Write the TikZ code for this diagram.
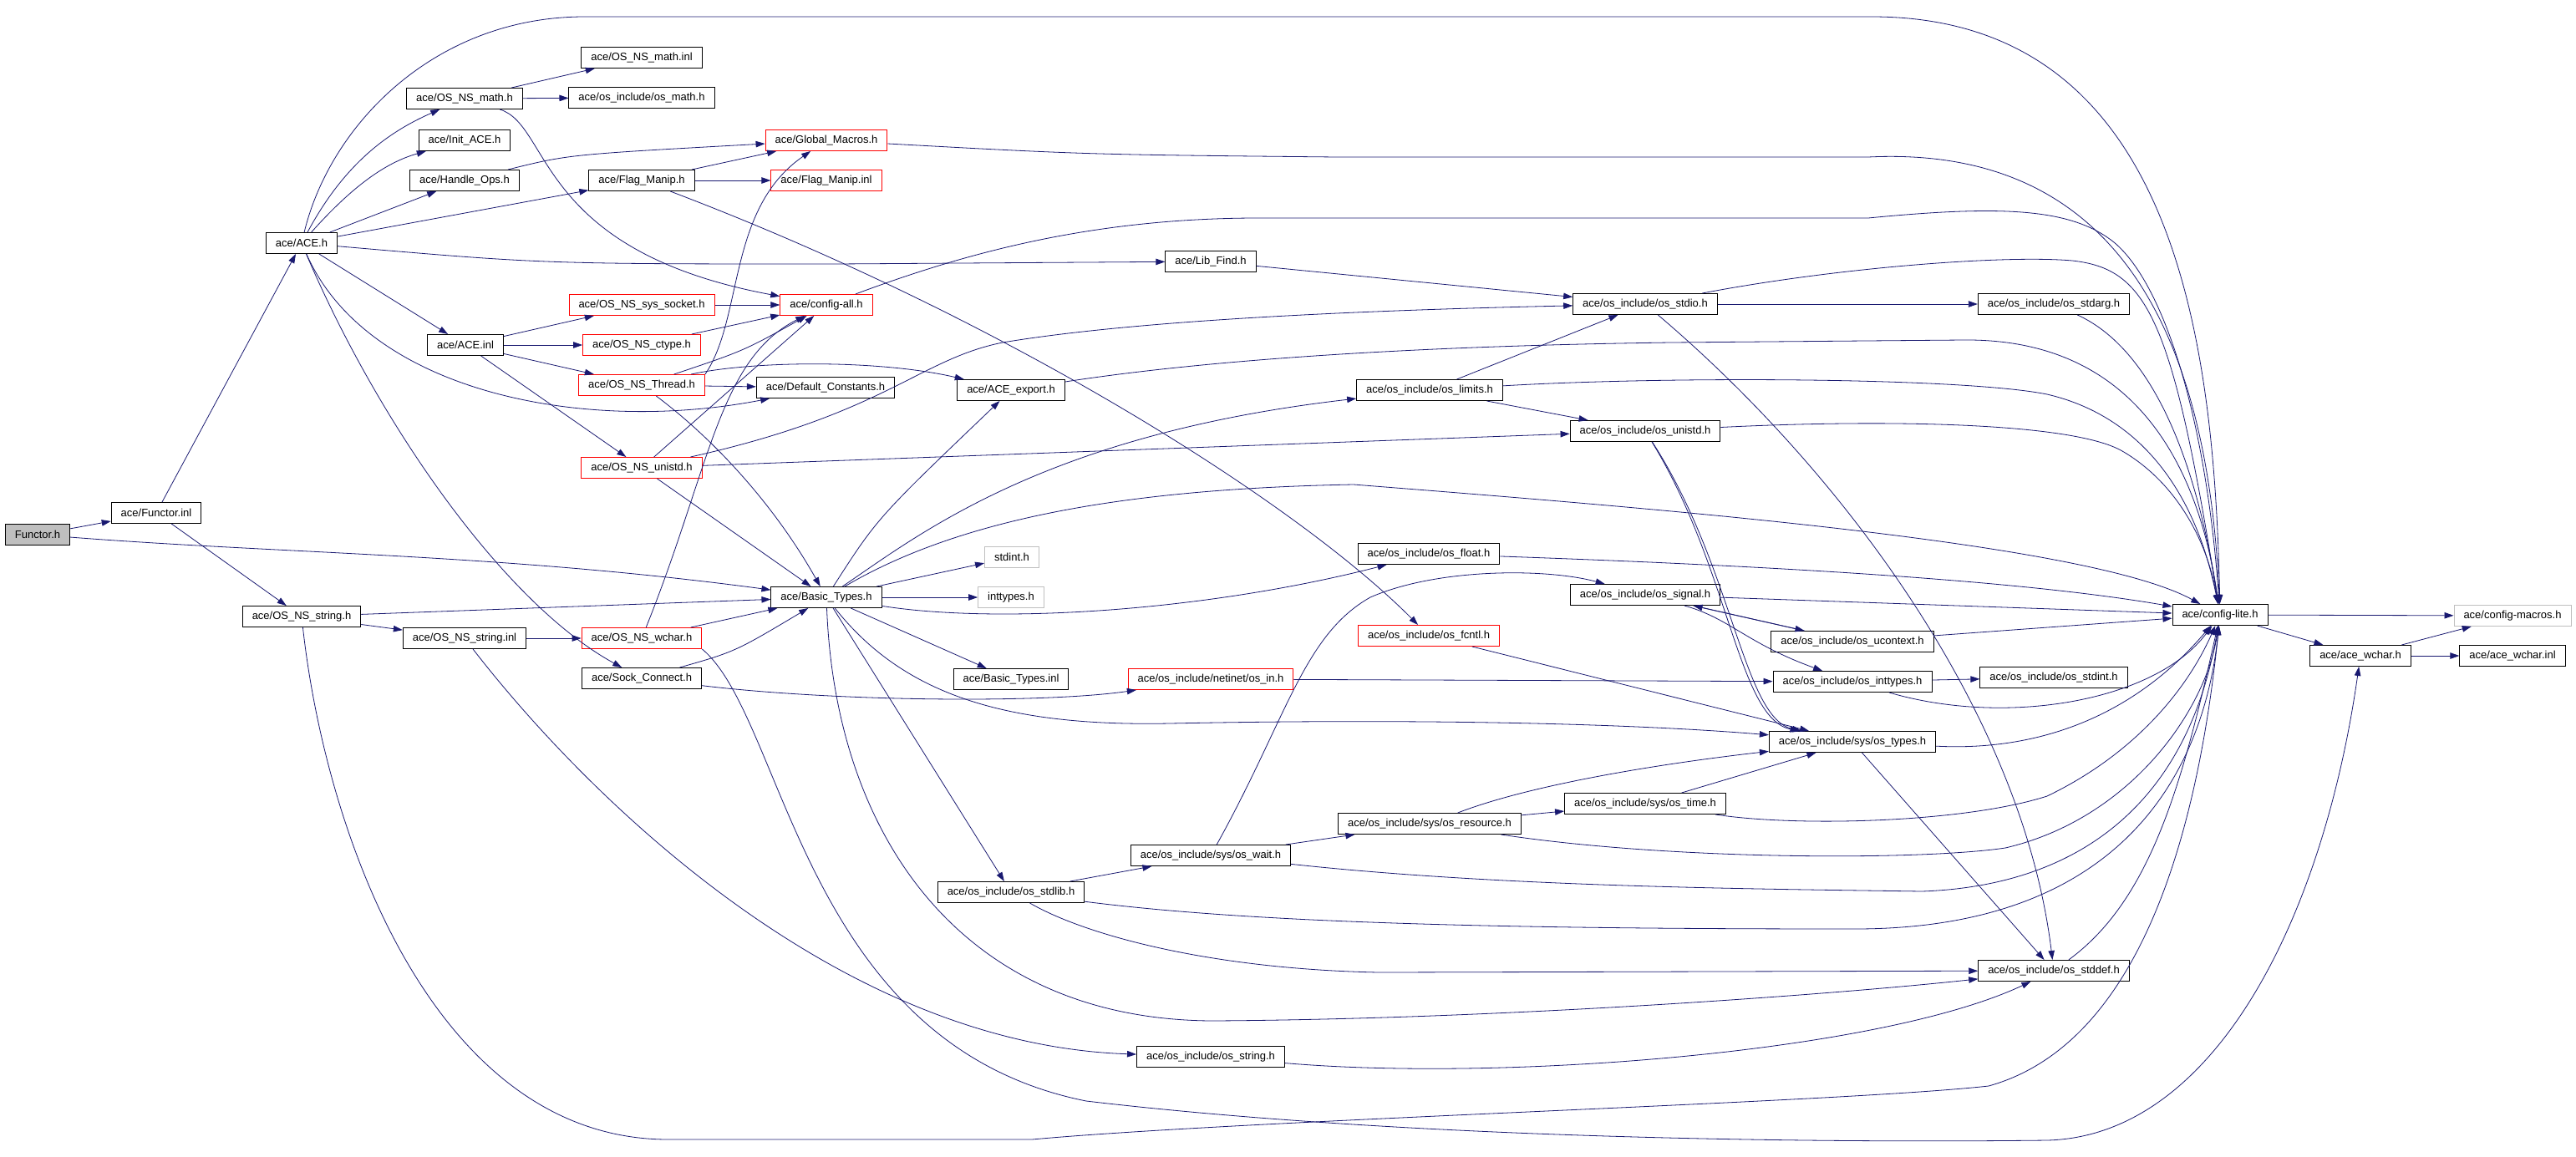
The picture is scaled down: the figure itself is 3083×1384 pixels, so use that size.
\documentclass[tikz,border=0pt]{standalone}
\usepackage{fontspec}
\setmainfont{Liberation Sans}
\usetikzlibrary{arrows.meta}
\definecolor{incblue}{RGB}{25,25,112}
\definecolor{boxgray}{RGB}{191,191,191}
\begin{document}
\begin{tikzpicture}
        [x=1pt, y=-1pt, >={Triangle[length=11pt,width=7.5pt]},
        hdr/.style={rectangle, draw, fill=white, line width=1pt, minimum height=25pt, inner xsep=11.5pt, inner ysep=2pt, font=\fontsize{13}{15}\selectfont},
        hdrRed/.style={hdr, draw=red},
        hdrGray/.style={hdr, draw=boxgray},
        hdrRoot/.style={hdr, fill=boxgray},
        inc/.style={->, incblue, line width=0.8pt}]
        \useasboundingbox (0,0) rectangle (3083,1384);
        \node[hdrRoot] (Functor) at (45,640) {Functor.h};
        \node[hdr] (FunctorInl) at (187,614) {ace/Functor.inl};
        \node[hdr] (ACE) at (361,291) {ace/ACE.h};
        \node[hdr] (NSstring) at (361,738) {ace/OS\_NS\_string.h};
        \node[hdr] (NSmath) at (556,118) {ace/OS\_NS\_math.h};
        \node[hdr] (InitACE) at (556,168) {ace/Init\_ACE.h};
        \node[hdr] (HandleOps) at (556,216) {ace/Handle\_Ops.h};
        \node[hdr] (ACEinl) at (557,413) {ace/ACE.inl};
        \node[hdr] (NSstringInl) at (556,764) {ace/OS\_NS\_string.inl};
        \node[hdr] (NSmathInl) at (768,69) {ace/OS\_NS\_math.inl};
        \node[hdr] (osMath) at (768,117) {ace/os\_include/os\_math.h};
        \node[hdr] (FlagManip) at (768,216) {ace/Flag\_Manip.h};
        \node[hdrRed] (NSsocket) at (768,365) {ace/OS\_NS\_sys\_socket.h};
        \node[hdrRed] (NSctype) at (768,413) {ace/OS\_NS\_ctype.h};
        \node[hdrRed] (NSthread) at (768,461) {ace/OS\_NS\_Thread.h};
        \node[hdrRed] (NSunistd) at (768,560) {ace/OS\_NS\_unistd.h};
        \node[hdrRed] (NSwchar) at (768,764) {ace/OS\_NS\_wchar.h};
        \node[hdr] (SockConnect) at (768,812) {ace/Sock\_Connect.h};
        \node[hdrRed] (GlobalMacros) at (989,168) {ace/Global\_Macros.h};
        \node[hdrRed] (FlagManipInl) at (989,216) {ace/Flag\_Manip.inl};
        \node[hdrRed] (configAll) at (989,365) {ace/config-all.h};
        \node[hdr] (DefConst) at (988,464) {ace/Default\_Constants.h};
        \node[hdr] (BasicTypes) at (989,715) {ace/Basic\_Types.h};
        \node[hdr] (ACEexport) at (1210,467) {ace/ACE\_export.h};
        \node[hdrGray] (stdint) at (1211,667) {stdint.h};
        \node[hdrGray] (inttypes) at (1210,715) {inttypes.h};
        \node[hdr] (BasicTypesInl) at (1210,813) {ace/Basic\_Types.inl};
        \node[hdr] (osStdlib) at (1210,1068) {ace/os\_include/os\_stdlib.h};
        \node[hdr] (LibFind) at (1449,313) {ace/Lib\_Find.h};
        \node[hdrRed] (osIn) at (1449,813) {ace/os\_include/netinet/os\_in.h};
        \node[hdr] (osWait) at (1449,1024) {ace/os\_include/sys/os\_wait.h};
        \node[hdr] (osString) at (1449,1265) {ace/os\_include/os\_string.h};
        \node[hdr] (osLimits) at (1711,467) {ace/os\_include/os\_limits.h};
        \node[hdr] (osFloat) at (1710,663) {ace/os\_include/os\_float.h};
        \node[hdrRed] (osFcntl) at (1710,761) {ace/os\_include/os\_fcntl.h};
        \node[hdr] (osResource) at (1711,986) {ace/os\_include/sys/os\_resource.h};
        \node[hdr] (osStdio) at (1969,364) {ace/os\_include/os\_stdio.h};
        \node[hdr] (osUnistd) at (1969,516) {ace/os\_include/os\_unistd.h};
        \node[hdr] (osSignal) at (1969,712) {ace/os\_include/os\_signal.h};
        \node[hdr] (osTime) at (1969,962) {ace/os\_include/sys/os\_time.h};
        \node[hdr] (osUcontext) at (2217,768) {ace/os\_include/os\_ucontext.h};
        \node[hdr] (osInttypes) at (2217,816) {ace/os\_include/os\_inttypes.h};
        \node[hdr] (osTypes) at (2217,888) {ace/os\_include/sys/os\_types.h};
        \node[hdr] (osStdarg) at (2458,364) {ace/os\_include/os\_stdarg.h};
        \node[hdr] (osStdint) at (2458,811) {ace/os\_include/os\_stdint.h};
        \node[hdr] (osStddef) at (2458,1162) {ace/os\_include/os\_stddef.h};
        \node[hdr] (configLite) at (2657,736) {ace/config-lite.h};
        \node[hdr] (aceWchar) at (2825,785) {ace/ace\_wchar.h};
        \node[hdrGray] (configMacros) at (3007,737) {ace/config-macros.h};
        \node[hdr] (aceWcharInl) at (3007,785) {ace/ace\_wchar.inl};

        % left part
        \draw[inc] (Functor) -- (FunctorInl);
        \draw[inc] (Functor) .. controls (340,663) and (600,663) .. (BasicTypes);
        \draw[inc] (FunctorInl) -- (ACE);
        \draw[inc] (FunctorInl) -- (NSstring);
        \draw[inc] (ACE) .. controls (395,150) and (520,20) .. (700,20) -- (2240,20) .. controls (2600,20) and (2650,400) .. (configLite);
        \draw[inc] (ACE) .. controls (410,200) and (460,160) .. (NSmath);
        \draw[inc] (ACE) .. controls (420,225) and (460,195) .. (InitACE);
        \draw[inc] (ACE) -- (HandleOps);
        \draw[inc] (ACE) -- (FlagManip);
        \draw[inc] (ACE) .. controls (650,316) .. (1000,316) -- (LibFind);
        \draw[inc] (ACE) -- (ACEinl);
        \draw[inc] (ACE) .. controls (440,470) and (700,520) .. (DefConst);
        \draw[inc] (ACE) .. controls (450,500) and (600,720) .. (SockConnect);
        \draw[inc] (NSstring) -- (BasicTypes);
        \draw[inc] (NSstring) -- (NSstringInl);
        \draw[inc] (NSstring) .. controls (390,1000) and (520,1364) .. (800,1364) -- (1235,1364) .. controls (1500,1340) and (2200,1320) .. (2380,1300) .. controls (2560,1250) and (2630,1000) .. (configLite);
        \draw[inc] (NSstringInl) -- (NSwchar);
        \draw[inc] (NSstringInl) .. controls (700,950) and (1000,1250) .. (osString);
        \draw[inc] (NSmath) -- (NSmathInl);
        \draw[inc] (NSmath) -- (osMath);
        \draw[inc] (NSmath) .. controls (660,150) and (640,300) .. (configAll);
        \draw[inc] (HandleOps) .. controls (680,185) .. (GlobalMacros);
        \draw[inc] (FlagManip) -- (GlobalMacros);
        \draw[inc] (FlagManip) -- (FlagManipInl);
        \draw[inc] (FlagManip) .. controls (1200,380) and (1550,600) .. (osFcntl);
        \draw[inc] (ACEinl) -- (NSsocket);
        \draw[inc] (ACEinl) -- (NSctype);
        \draw[inc] (ACEinl) -- (NSthread);
        \draw[inc] (ACEinl) -- (NSunistd);
        \draw[inc] (NSsocket) -- (configAll);
        \draw[inc] (NSctype) -- (configAll);
        \draw[inc] (NSthread) .. controls (890,420) .. (configAll);
        \draw[inc] (NSthread.north east) .. controls (890,380) and (870,250) .. (GlobalMacros);
        \draw[inc] (NSthread) -- (DefConst);
        \draw[inc] (NSthread) .. controls (900,432) and (1050,430) .. (ACEexport);
        \draw[inc] (NSthread) .. controls (860,530) and (930,610) .. (BasicTypes);
        \draw[inc] (NSunistd) -- (configAll);
        \draw[inc] (NSunistd) -- (BasicTypes);
        \draw[inc] (NSunistd) -- (osUnistd);
        \draw[inc] (NSunistd) .. controls (1060,495) and (1100,430) .. (1200,410) .. controls (1350,385) and (1600,372) .. (osStdio);
        \draw[inc] (NSwchar) -- (BasicTypes);
        \draw[inc] (NSwchar) .. controls (850,560) and (860,430) .. (configAll);
        \draw[inc] (NSwchar.south east) .. controls (940,860) and (960,1250) .. (1300,1318) .. controls (1700,1365) and (2200,1368) .. (2450,1365) .. controls (2650,1360) and (2780,1100) .. (aceWchar);
        \draw[inc] (SockConnect) .. controls (880,780) .. (BasicTypes);
        \draw[inc] (SockConnect) .. controls (1000,840) and (1250,842) .. (osIn);
        \draw[inc] (GlobalMacros) .. controls (1300,185) .. (1600,188) -- (2236,188) .. controls (2500,175) and (2640,350) .. (configLite);
        \draw[inc] (configAll) .. controls (1150,305) and (1300,262) .. (1500,261) -- (2236,261) .. controls (2400,245) and (2480,250) .. (2530,290) .. controls (2590,340) and (2640,500) .. (configLite);

        % Basic_Types.h and the middle
        \draw[inc] (BasicTypes) -- (stdint);
        \draw[inc] (BasicTypes) -- (inttypes);
        \draw[inc] (BasicTypes) -- (BasicTypesInl);
        \draw[inc] (BasicTypes) -- (osStdlib);
        \draw[inc] (BasicTypes) .. controls (1050,620) .. (ACEexport);
        \draw[inc] (BasicTypes) .. controls (1100,640) and (1250,520) .. (osLimits);
        \draw[inc] (BasicTypes) .. controls (1150,620) and (1350,585) .. (1620,580) .. controls (2000,610) and (2500,650) .. (configLite);
        \draw[inc] (BasicTypes) .. controls (1200,748) and (1450,730) .. (osFloat);
        \draw[inc] (BasicTypes) .. controls (1080,830) and (1200,870) .. (1400,866) .. controls (1700,860) and (1950,866) .. (osTypes);
        \draw[inc] (BasicTypes) .. controls (1000,1000) and (1150,1220) .. (1450,1222) .. controls (1800,1220) and (2200,1190) .. (osStddef);
        \draw[inc] (ACEexport) .. controls (1450,430) and (1700,414) .. (2000,410) -- (2350,407) .. controls (2550,405) and (2630,550) .. (configLite);
        \draw[inc] (LibFind) -- (osStdio);
        \draw[inc] (osStdlib) -- (osWait);
        \draw[inc] (osStdlib) .. controls (1500,1105) and (1800,1112) .. (2220,1112) .. controls (2560,1112) and (2640,900) .. (configLite);
        \draw[inc] (osStdlib) .. controls (1300,1120) and (1450,1160) .. (1650,1164) -- (osStddef);
        \draw[inc] (osIn) -- (osInttypes);
        \draw[inc] (osWait) .. controls (1540,860) and (1560,760) .. (1640,715) .. controls (1720,680) and (1850,680) .. (osSignal);
        \draw[inc] (osWait) -- (osResource);
        \draw[inc] (osWait) .. controls (1800,1062) and (2100,1064) .. (2300,1067) .. controls (2500,1060) and (2620,950) .. (configLite);
        \draw[inc] (osString) .. controls (1800,1295) and (2250,1260) .. (osStddef);

        % os_include part
        \draw[inc] (osLimits) -- (osStdio);
        \draw[inc] (osLimits) -- (osUnistd);
        \draw[inc] (osLimits) .. controls (2000,450) and (2350,452) .. (2450,472) .. controls (2570,500) and (2630,600) .. (configLite);
        \draw[inc] (osFloat) .. controls (2200,680) and (2450,700) .. (configLite);
        \draw[inc] (osFcntl) -- (osTypes);
        \draw[inc] (osResource) -- (osTime);
        \draw[inc] (osResource) .. controls (1830,940) and (1980,915) .. (osTypes);
        \draw[inc] (osResource) .. controls (2000,1030) and (2300,1030) .. (2400,1015) .. controls (2550,980) and (2640,850) .. (configLite);
        \draw[inc] (osStdio) -- (osStdarg);
        \draw[inc] (osStdio) .. controls (2200,320) and (2400,305) .. (2480,312) .. controls (2570,322) and (2600,380) .. (configLite);
        \draw[inc] (osStdio) .. controls (2200,560) and (2420,850) .. (osStddef);
        \draw[inc] (osUnistd) .. controls (2070,680) and (2080,860) .. (osTypes);
        \draw[inc] (osUnistd) .. controls (2075,680) and (2086,860) .. (osTypes);
        \draw[inc] (osUnistd) .. controls (2250,502) and (2480,505) .. (2540,540) .. controls (2600,575) and (2640,640) .. (configLite);
        \draw[inc] (osSignal) -- (osUcontext);
        \draw[inc] (osSignal) .. controls (2070,740) and (2090,770) .. (osInttypes);
        \draw[inc] (osSignal) -- (configLite);
        \draw[inc] (osTime) -- (osTypes);
        \draw[inc] (osTime) .. controls (2150,990) and (2350,985) .. (2450,953) .. controls (2560,900) and (2620,820) .. (configLite);
        \draw[inc] (osUcontext) -- (osSignal);
        \draw[inc] (osUcontext) -- (configLite);
        \draw[inc] (osInttypes) -- (osStdint);
        \draw[inc] (osInttypes) .. controls (2400,870) and (2580,840) .. (configLite);
        \draw[inc] (osTypes) .. controls (2450,900) and (2560,850) .. (configLite);
        \draw[inc] (osTypes) -- (osStddef);
        \draw[inc] (osStdarg) .. controls (2580,420) and (2630,560) .. (configLite);
        \draw[inc] (osStddef) .. controls (2570,1080) and (2610,950) .. (configLite);
        \draw[inc] (configLite) -- (configMacros);
        \draw[inc] (configLite) -- (aceWchar);
        \draw[inc] (aceWchar) -- (configMacros);
        \draw[inc] (aceWchar) -- (aceWcharInl);
    \end{tikzpicture}
\end{document}
